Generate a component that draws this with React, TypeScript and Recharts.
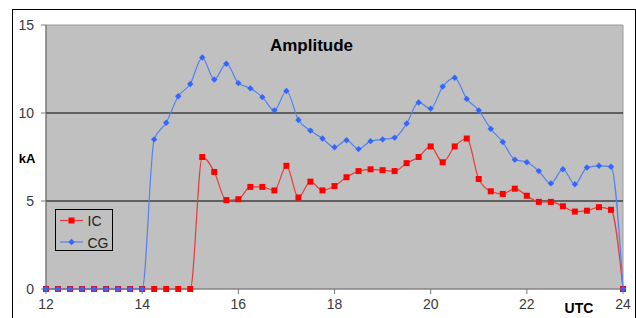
import React from 'react';
import { LineChart, Line, XAxis, YAxis, ReferenceArea, ReferenceLine, Legend } from 'recharts';

const hours: number[] = [
  12, 12.25, 12.5, 12.75, 13, 13.25, 13.5, 13.75, 14, 14.25, 14.5, 14.75,
  15, 15.25, 15.5, 15.75, 16, 16.25, 16.5, 16.75, 17, 17.25, 17.5, 17.75,
  18, 18.25, 18.5, 18.75, 19, 19.25, 19.5, 19.75, 20, 20.25, 20.5, 20.75,
  21, 21.25, 21.5, 21.75, 22, 22.25, 22.5, 22.75, 23, 23.25, 23.5, 23.75, 24,
];

const icValues: number[] = [
  0, 0, 0, 0, 0, 0, 0, 0, 0, 0, 0, 0,
  0, 7.5, 6.65, 5.05, 5.1, 5.8, 5.8, 5.6, 7.0, 5.2, 6.1, 5.6,
  5.85, 6.35, 6.7, 6.8, 6.75, 6.7, 7.15, 7.5, 8.1, 7.2, 8.1, 8.55,
  6.25, 5.55, 5.4, 5.7, 5.3, 4.95, 4.95, 4.7, 4.4, 4.45, 4.65, 4.5, 0,
];

const cgValues: number[] = [
  0, 0, 0, 0, 0, 0, 0, 0, 0, 8.5, 9.45, 10.95,
  11.65, 13.15, 11.9, 12.8, 11.7, 11.4, 10.9, 10.15, 11.25, 9.6, 9.0, 8.55,
  8.05, 8.45, 7.95, 8.4, 8.5, 8.6, 9.4, 10.6, 10.25, 11.5, 12.0, 10.8,
  10.15, 9.1, 8.35, 7.35, 7.2, 6.7, 6.0, 6.8, 5.95, 6.9, 7.0, 6.95, 0,
];

const xTicks: number[] = [12, 14, 16, 18, 20, 22, 24];
const yTicks: number[] = [0, 5, 10, 15];
const gridValues: number[] = [5, 10];
const seriesNames: string[] = ['IC', 'CG'];

const data = hours.map((h, i) => ({ hour: h, IC: icValues[i], CG: cgValues[i] }));

const FONT = '"Liberation Sans", Arial, sans-serif';
const RED = '#FF0000';
const RED_LINE = '#E83A3A';
const BLUE = '#3366FF';
const BLUE_LINE = '#5580F0';

const SquareDot = (props: any) => {
  const { cx, cy, index } = props;
  if (cx == null || cy == null) return <g key={`s-${index}`} />;
  return <rect key={`s-${index}`} x={cx - 3} y={cy - 3} width={6} height={6} fill={RED} />;
};

const DiamondDot = (props: any) => {
  const { cx, cy, index } = props;
  if (cx == null || cy == null) return <g key={`d-${index}`} />;
  const r = 3.2;
  return (
    <polygon
      key={`d-${index}`}
      points={`${cx},${cy - r} ${cx + r},${cy} ${cx},${cy + r} ${cx - r},${cy}`}
      fill={BLUE}
    />
  );
};

const LegendBox = () => (
  <svg width={58} height={42} style={{ display: 'block' }}>
    <rect x={0.5} y={0.5} width={57} height={41} fill="none" stroke="#000" strokeWidth={1} />
    <line x1={5} x2={28} y1={11.5} y2={11.5} stroke={RED_LINE} strokeWidth={1.2} />
    <rect x={13.5} y={8.5} width={6} height={6} fill={RED} />
    <text x={32.5} y={16.5} fontFamily={FONT} fontSize={14} fill="#222">{seriesNames[0]}</text>
    <line x1={5} x2={28} y1={33} y2={33} stroke={BLUE_LINE} strokeWidth={1.2} />
    <polygon points="16.5,29.8 19.7,33 16.5,36.2 13.3,33" fill={BLUE} />
    <text x={32.5} y={38.5} fontFamily={FONT} fontSize={14} fill="#222">{seriesNames[1]}</text>
  </svg>
);

export default function App() {
  return (
    <div style={{ position: 'absolute', left: 0, top: 0, width: 636, height: 318, background: '#fff', overflow: 'hidden' }}>
      <div
        style={{
          position: 'absolute',
          left: 12,
          top: 9,
          width: 624,
          height: 309,
          boxSizing: 'border-box',
          borderLeft: '1px solid #000',
          borderTop: '1px solid #000',
          borderRight: '1px solid #000',
        }}
      />
      <div style={{ position: 'absolute', left: 0, top: 0 }}>
        <LineChart
          width={636}
          height={318}
          data={data}
          margin={{ top: 25, right: 13, left: 12, bottom: 9 }}
          style={{ fontFamily: FONT }}
        >
          <XAxis
            dataKey="hour"
            type="number"
            domain={[12, 24]}
            ticks={xTicks}
            interval={0}
            height={20}
            tickSize={5}
            tickMargin={5}
            axisLine={{ stroke: '#7a7a7a' }}
            tickLine={{ stroke: '#7a7a7a' }}
            tick={{ fill: '#3a3a3a', fontSize: 14, fontFamily: FONT }}
          />
          <YAxis
            type="number"
            domain={[0, 15]}
            ticks={yTicks}
            interval={0}
            width={34}
            tickSize={5}
            tickMargin={7}
            axisLine={{ stroke: '#6a6a6a' }}
            tickLine={{ stroke: '#7a7a7a' }}
            tick={{ fill: '#3a3a3a', fontSize: 14, fontFamily: FONT }}
          />
          <ReferenceArea
            x1={12}
            x2={24}
            y1={0}
            y2={15}
            fill="#C0C0C0"
            fillOpacity={1}
            stroke="#9a9a9a"
            strokeWidth={1}
          />
          {gridValues.map((v) => (
            <ReferenceLine key={v} y={v} stroke="#000" strokeWidth={1} />
          ))}
          <Legend
            layout="vertical"
            align="center"
            verticalAlign="middle"
            content={() => <LegendBox />}
            wrapperStyle={{ position: 'absolute', left: 55, top: 209, width: 58, height: 42 }}
          />
          <Line
            type="monotone"
            dataKey="IC"
            name={seriesNames[0]}
            stroke={RED_LINE}
            strokeWidth={1.2}
            dot={SquareDot}
            activeDot={false}
            isAnimationActive={false}
          />
          <Line
            type="monotone"
            dataKey="CG"
            name={seriesNames[1]}
            stroke={BLUE_LINE}
            strokeWidth={1.2}
            dot={DiamondDot}
            activeDot={false}
            isAnimationActive={false}
          />
        </LineChart>
      </div>
      <svg
        width={636}
        height={318}
        style={{ position: 'absolute', left: 0, top: 0, pointerEvents: 'none' }}
      >
        <text x={311.5} y={50.5} textAnchor="middle" fontFamily={FONT} fontWeight="bold" fontSize={17} fill="#000">
          Amplitude
        </text>
        <text x={27} y={162.5} textAnchor="middle" fontFamily={FONT} fontWeight="bold" fontSize={13} fill="#000">
          kA
        </text>
        <text x={579} y={312.5} textAnchor="middle" fontFamily={FONT} fontWeight="bold" fontSize={14} fill="#000">
          UTC
        </text>
      </svg>
    </div>
  );
}
